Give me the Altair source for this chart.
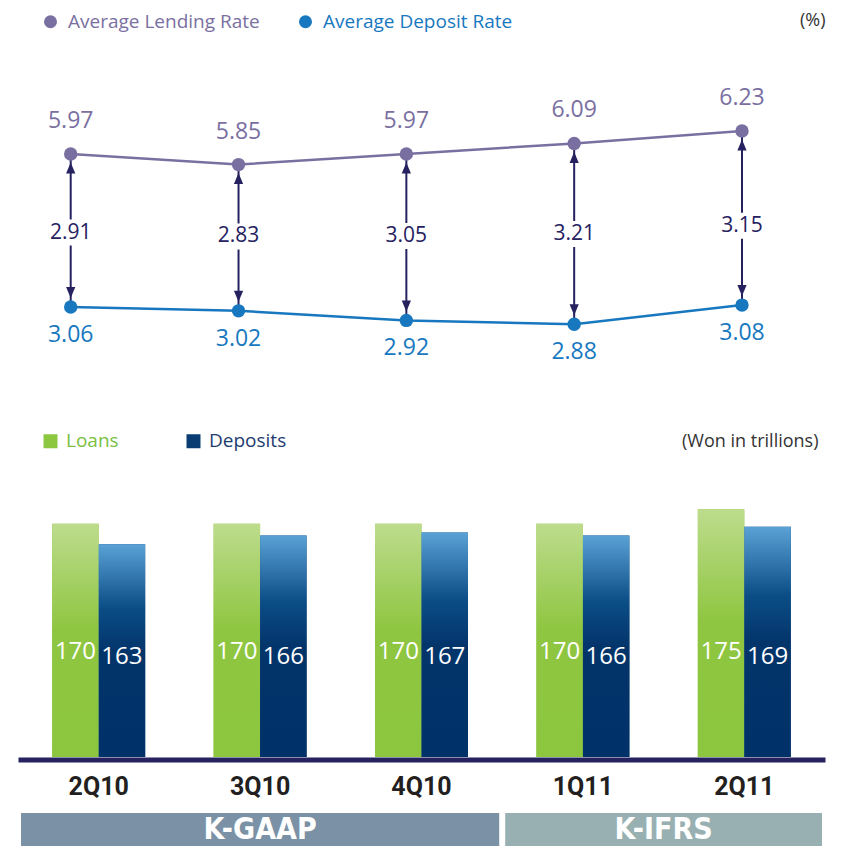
import altair as alt
import pandas as pd

# ---------------- data ----------------
quarters = ["2Q10", "3Q10", "4Q10", "1Q11", "2Q11"]
lending_rate = [5.97, 5.85, 5.97, 6.09, 6.23]
deposit_rate = [3.06, 3.02, 2.92, 2.88, 3.08]
loans = [170, 170, 170, 170, 175]
deposits = [163, 166, 167, 166, 169]
regimes = ["K-GAAP", "K-GAAP", "K-GAAP", "K-IFRS", "K-IFRS"]
rate_series = ["Average Lending Rate", "Average Deposit Rate"]
balance_series = ["Loans", "Deposits"]

# ---------------- style ----------------
W, H = 807, 749
FONT = "Open Sans"
CAT_FONT = "Roboto"
COND = "'Liberation Sans Narrow', 'DejaVu Sans Condensed', sans-serif"
PURPLE = "#7a6fa1"
BLUE = "#1878bf"
NAVY = "#26215f"
GREEN = "#8dc63f"
DARKBLUE = "#0a3c74"
GREEN_TXT = "#78bf42"
NAVY_TXT = "#1d3c70"

rates_long = pd.DataFrame({
    "quarter": quarters * 2,
    "series": [rate_series[0]] * len(quarters) + [rate_series[1]] * len(quarters),
    "rate": lending_rate + deposit_rate,
})
rates_wide = pd.DataFrame({"quarter": quarters, "lending": lending_rate, "deposit": deposit_rate})
bal_long = pd.DataFrame({
    "quarter": quarters * 2,
    "series": [balance_series[0]] * len(quarters) + [balance_series[1]] * len(quarters),
    "amount": loans + deposits,
})
regime_df = pd.DataFrame({"quarter": quarters, "regime": regimes, "idx": list(range(len(quarters)))})

# ---------------- rates panel ----------------
rx = alt.X("quarter:N", sort=quarters,
           scale=alt.Scale(type="point", domain=quarters, range=[52.7, 724], padding=0),
           axis=None)
rscale = alt.Scale(domain=[2.8, 3.2, 5.8, 6.3], range=[323.9, 285.6, 161.0, 116.9],
                   zero=False, nice=False)
rate_axis = alt.Axis(title="(%)", orient="right", domain=False, ticks=False, labels=False,
                     grid=False, minExtent=0, titleAngle=0, titleAlign="right",
                     titleBaseline="middle", titleX=0, titleY=12, titleFont=FONT,
                     titleFontSize=18, titleFontWeight="normal", titleColor="#333333")
rcolor = alt.Scale(domain=rate_series, range=[PURPLE, BLUE])
rate_legend = alt.Legend(
    title=None, orient="none", legendX=23, legendY=4, direction="horizontal",
    symbolType="circle", symbolSize=170, symbolStrokeWidth=0, symbolOpacity=1,
    labelFont=FONT, labelFontSize=19, labelOffset=8, columnPadding=36, padding=0,
    labelLimit=0,
    labelColor={"expr": f"datum.value == '{rate_series[0]}' ? '{PURPLE}' : '{BLUE}'"},
)


def ry(field):
    return alt.Y(field, scale=rscale, axis=rate_axis)


line = alt.Chart(rates_long).mark_line(strokeWidth=2.5).encode(
    x=rx, y=ry("rate:Q"),
    color=alt.Color("series:N", scale=rcolor, legend=rate_legend),
)
arrows = alt.Chart(rates_wide).mark_rule(color=NAVY, strokeWidth=2).encode(
    x=rx, y=ry("lending:Q"), y2="deposit:Q",
)
UP = "M0,0 L0.42,1 L-0.42,1 Z"
DOWN = "M0,0 L0.42,-1 L-0.42,-1 Z"
head_up = alt.Chart(rates_wide).mark_point(shape=UP, filled=True, color=NAVY, size=484,
                                           opacity=1, yOffset=8.5).encode(
    x=rx, y=ry("lending:Q"))
head_down = alt.Chart(rates_wide).mark_point(shape=DOWN, filled=True, color=NAVY, size=484,
                                             opacity=1, yOffset=-9).encode(
    x=rx, y=ry("deposit:Q"))

spread_base = alt.Chart(rates_wide).transform_calculate(
    spread="datum.lending - datum.deposit",
    mid="(datum.lending + datum.deposit) / 2",
)
BOX = "M-1,-0.5 L1,-0.5 L1,0.5 L-1,0.5 Z"
box = spread_base.mark_point(shape=BOX, filled=True, color="white", size=2704, opacity=1,
                             yOffset=2).encode(
    x=rx, y=ry("mid:Q"))
spread_txt = spread_base.mark_text(font=FONT, fontSize=21, color=NAVY, baseline="middle",
                                   dy=2).encode(
    x=rx, y=ry("mid:Q"),
    text=alt.Text("spread:Q", format=".2f"))

points = alt.Chart(rates_long).mark_circle(size=180, opacity=1).encode(
    x=rx, y=ry("rate:Q"),
    color=alt.Color("series:N", scale=rcolor, legend=rate_legend),
)
lend_lbl = alt.Chart(rates_wide).mark_text(font=FONT, fontSize=23, color=PURPLE,
                                           baseline="middle", dy=-33).encode(
    x=rx, y=ry("lending:Q"),
    text=alt.Text("lending:Q", format=".2f"))
dep_lbl = alt.Chart(rates_wide).mark_text(font=FONT, fontSize=23, color=BLUE,
                                          baseline="middle", dy=28).encode(
    x=rx, y=ry("deposit:Q"),
    text=alt.Text("deposit:Q", format=".2f"))

rates = alt.layer(line, arrows, head_up, head_down, box, spread_txt, points, lend_lbl, dep_lbl)

# ---------------- balances panel ----------------
bscale_x = alt.Scale(domain=quarters, paddingInner=0.424, paddingOuter=0.212)
cat_axis = alt.Axis(title=None, orient="bottom", labelAngle=0, ticks=False, grid=False,
                    domainColor=NAVY, domainWidth=5, offset=2.5, labelPadding=15,
                    labelFont=CAT_FONT, labelFontSize=25, labelFontWeight="bold",
                    labelColor="#231f20")
bx = alt.X("quarter:N", sort=quarters, scale=bscale_x, axis=cat_axis)
bxo = alt.XOffset("series:N", sort=balance_series,
                  scale=alt.Scale(domain=balance_series, paddingInner=0, paddingOuter=0))
bscale = alt.Scale(domain=[90, 175], range=[H, 501.2], zero=False, nice=False, clamp=True)
bal_axis = alt.Axis(title="(Won in trillions)", orient="left", domain=False, ticks=False,
                    labels=False, grid=False, minExtent=0, titleAngle=0, titleAlign="right",
                    titleBaseline="middle", titleX=800, titleY=433, titleFont=FONT,
                    titleFontSize=18, titleFontWeight="normal", titleColor="#333333")
bal_legend = alt.Legend(
    title=None, orient="none", legendX=23, legendY=423.5,
    direction="horizontal", symbolType="square", symbolSize=196,
    symbolStrokeWidth=0, labelFont=FONT, labelFontSize=19,
    labelOffset=6, columnPadding=65, padding=0, labelLimit=0,
    labelColor={"expr": f"datum.value == '{balance_series[0]}' ? '{GREEN_TXT}' : '{NAVY_TXT}'"},
)

under = alt.Chart(bal_long).mark_bar().encode(
    x=bx, xOffset=bxo,
    y=alt.Y("amount:Q", scale=bscale, axis=bal_axis, stack=None),
    color=alt.Color("series:N", scale=alt.Scale(domain=balance_series, range=[GREEN, DARKBLUE]),
                    legend=bal_legend),
)
loan_grad = alt.Gradient(gradient="linear", x1=0, x2=0, y1=0, y2=1, stops=[
    alt.GradientStop(offset=0, color="#bddc8d"),
    alt.GradientStop(offset=0.45, color="#8fc641"),
    alt.GradientStop(offset=1, color="#8cc63f"),
])
dep_grad = alt.Gradient(gradient="linear", x1=0, x2=0, y1=0, y2=1, stops=[
    alt.GradientStop(offset=0, color="#5aa2d6"),
    alt.GradientStop(offset=0.3, color="#0b4d86"),
    alt.GradientStop(offset=0.5, color="#03356b"),
    alt.GradientStop(offset=1, color="#003168"),
])
loan_bars = alt.Chart(bal_long).transform_filter(
    alt.datum.series == balance_series[0]).mark_bar(color=loan_grad).encode(
    x=bx, xOffset=bxo, y=alt.Y("amount:Q", scale=bscale, axis=bal_axis, stack=None))
dep_bars = alt.Chart(bal_long).transform_filter(
    alt.datum.series == balance_series[1]).mark_bar(color=dep_grad).encode(
    x=bx, xOffset=bxo, y=alt.Y("amount:Q", scale=bscale, axis=bal_axis, stack=None))
loan_txt = alt.Chart(bal_long).transform_filter(
    alt.datum.series == balance_series[0]).mark_text(
    font=FONT, fontSize=24, color="white", baseline="middle").encode(
    x=bx, xOffset=bxo, y=alt.YDatum(126, axis=bal_axis), text="amount:Q")
dep_txt = alt.Chart(bal_long).transform_filter(
    alt.datum.series == balance_series[1]).mark_text(
    font=FONT, fontSize=24, color="white", baseline="middle", dy=5).encode(
    x=bx, xOffset=bxo, y=alt.YDatum(126, axis=bal_axis), text="amount:Q")

bars = alt.layer(under, loan_bars, dep_bars, loan_txt, dep_txt)

# ---------------- accounting standard band ----------------
band_base = alt.Chart(regime_df).transform_aggregate(
    start="min(idx)", stop="max(idx)", groupby=["regime"]
).transform_calculate(
    stop1="datum.stop + 1",
    center="(datum.start + datum.stop + 1) / 2",
    row="'standard'",
)
qscale = alt.Scale(domain=[0, len(quarters)], nice=False, zero=False)
yband = alt.Y("row:N", scale=alt.Scale(range=[805, 838], paddingInner=0, paddingOuter=0),
              axis=None)
band_rect = band_base.mark_rect(xOffset=3, x2Offset=-3).encode(
    x=alt.X("start:Q", scale=qscale, axis=None), x2="stop1:Q", y=yband,
    color=alt.Color("regime:N", scale=alt.Scale(domain=["K-GAAP", "K-IFRS"],
                                                range=["#7b91a5", "#98b0b2"]), legend=None),
)
band_txt = band_base.mark_text(font=COND, fontWeight="bold", fontSize=30, color="white",
                               baseline="middle").encode(
    x=alt.X("center:Q", scale=qscale, axis=None), y=yband, text="regime:N")
band = alt.layer(band_rect, band_txt)

chart = alt.layer(rates, bars, band).resolve_scale(
    x="independent", y="independent", color="independent"
).properties(
    width=W, height=H, padding={"left": 10, "top": 0, "right": 5, "bottom": 0}
).configure_view(stroke=None)

chart.save("out.html", embed_options={"renderer": "svg", "actions": False})
